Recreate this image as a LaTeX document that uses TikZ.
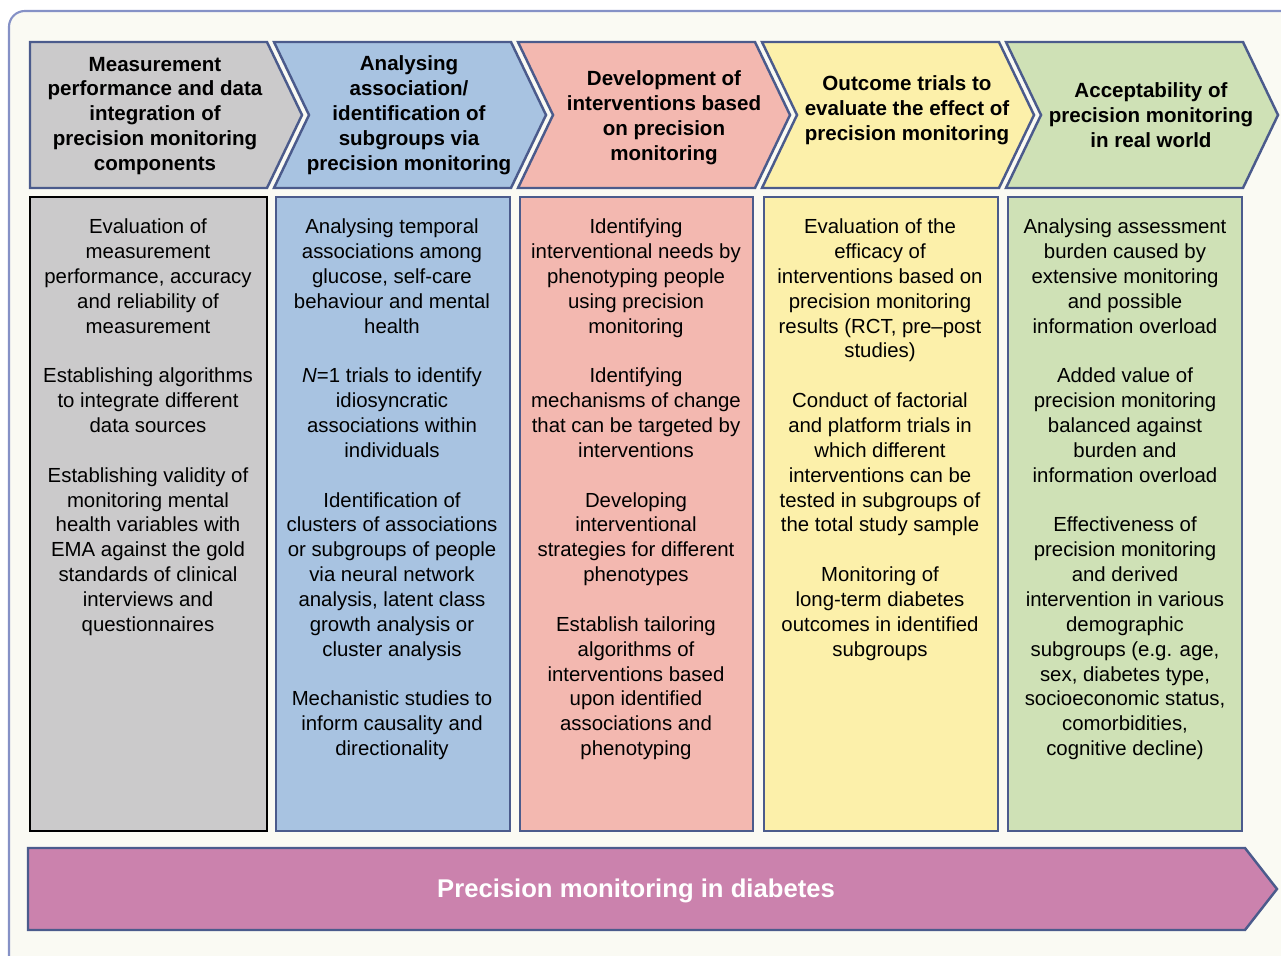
\documentclass[tikz,border=0pt]{standalone}
\usepackage{fontspec}
\setmainfont{Liberation Sans}

\definecolor{frameline}{HTML}{8591C6}
\definecolor{framefill}{HTML}{FAFAF3}
\definecolor{chevline}{HTML}{4B5B8C}
\definecolor{grayA}{HTML}{CBCACB}
\definecolor{blueA}{HTML}{A8C3E1}
\definecolor{pinkA}{HTML}{F3B8B0}
\definecolor{yellowA}{HTML}{FCF0AA}
\definecolor{greenA}{HTML}{CFE1B6}
\definecolor{magentaA}{HTML}{CB82AD}

\tikzset{
  chev/.style={draw=chevline, line width=1.4pt, line join=miter},
  colbox/.style={draw=chevline, line width=1.4pt},
  head/.style={align=center, inner sep=0pt, font=\fontsize{11.7}{14.2}\selectfont\bfseries},
  body/.style={align=center, inner sep=0pt, anchor=north, font=\fontsize{11.6}{14.15}\selectfont},
}
\newcommand{\gap}{\\[14.15pt]}

\begin{document}
\begin{tikzpicture}[x=0.02cm, y=-0.02cm]
        \useasboundingbox (0,0) rectangle (1281,956);
        \begin{scope}
          \clip (0,0) rectangle (1281,956);
          \draw[frameline, line width=1.2pt, fill=framefill, rounded corners=9pt] (9,11) rectangle (1310,980);
        \end{scope}

        % header chevrons
        \draw[chev, fill=grayA] (30,42) -- ++(237,0) -- ++(35,73) -- ++(-35,73) -- ++(-237,0) -- cycle;
        \foreach \k/\col in {2/blueA, 3/pinkA, 4/yellowA, 5/greenA} {
          \pgfmathsetmacro\L{30+244*(\k-1)}
          \draw[chev, fill=\col] (\L,42) -- ++(237,0) -- ++(35,73) -- ++(-35,73) -- ++(-237,0) -- ++(35,-73) -- cycle;
        }

        % column boxes
        \draw[line width=1.4pt, fill=grayA] (30,197) rectangle (267,831);
        \draw[colbox, fill=blueA] (276,197) rectangle (510,831);
        \draw[colbox, fill=pinkA] (520,197) rectangle (753,831);
        \draw[colbox, fill=yellowA] (764,197) rectangle (998,831);
        \draw[colbox, fill=greenA] (1008,197) rectangle (1242,831);

        % bottom arrow
        \draw[chev, fill=magentaA] (28,848) -- (1245,848) -- (1277,889) -- (1245,930) -- (28,930) -- cycle;

        \node[head] (head1) at (155,116) {Measurement\\performance and data\\integration of\\precision monitoring\\components};
        \node[head] (head2) at (409,115.5) {Analysing\\association/\\identification of\\subgroups via\\precision monitoring};
        \node[head] (head3) at (664,117.5) {Development of\\interventions based\\on precision\\monitoring};
        \node[head] (head4) at (907,110) {Outcome trials to\\evaluate the effect of\\precision monitoring};
        \node[head] (head5) at (1151,115) {Acceptability of\\precision monitoring\\in real world};

        \node[body] (body1) at (148,218.5) {Evaluation of\\measurement\\performance, accuracy\\and reliability of\\measurement\gap
          Establishing algorithms\\to integrate different\\data sources\gap
          Establishing validity of\\monitoring mental\\health variables with\\EMA against the gold\\standards of clinical\\interviews and\\questionnaires};
        \node[body] (body2) at (392,218.5) {Analysing temporal\\associations among\\glucose, self-care\\behaviour and mental\\health\gap
          \textit{N}=1 trials to identify\\idiosyncratic\\associations within\\individuals\gap
          Identification of\\clusters of associations\\or subgroups of people\\via neural network\\analysis, latent class\\growth analysis or\\cluster analysis\gap
          Mechanistic studies to\\inform causality and\\directionality};
        \node[body] (body3) at (636,218.5) {Identifying\\interventional needs by\\phenotyping people\\using precision\\monitoring\gap
          Identifying\\mechanisms of change\\that can be targeted by\\interventions\gap
          Developing\\interventional\\strategies for different\\phenotypes\gap
          Establish tailoring\\algorithms of\\interventions based\\upon identified\\associations and\\phenotyping};
        \node[body] (body4) at (880,218.5) {Evaluation of the\\efficacy of\\interventions based on\\precision monitoring\\results (RCT, pre--post\\studies)\gap
          Conduct of factorial\\and platform trials in\\which different\\interventions can be\\tested in subgroups of\\the total study sample\gap
          Monitoring of\\long-term diabetes\\outcomes in identified\\subgroups};
        \node[body] (body5) at (1125,218.5) {Analysing assessment\\burden caused by\\extensive monitoring\\and possible\\information overload\gap
          Added value of\\precision monitoring\\balanced against\\burden and\\information overload\gap
          Effectiveness of\\precision monitoring\\and derived\\intervention in various\\demographic\\subgroups (e.g. age,\\sex, diabetes type,\\socioeconomic status,\\comorbidities,\\cognitive decline)};

        \node[head, text=white, font=\fontsize{14.6}{17}\selectfont\bfseries] (base) at (636,891) {Precision monitoring in diabetes};
      \end{tikzpicture}
\end{document}
